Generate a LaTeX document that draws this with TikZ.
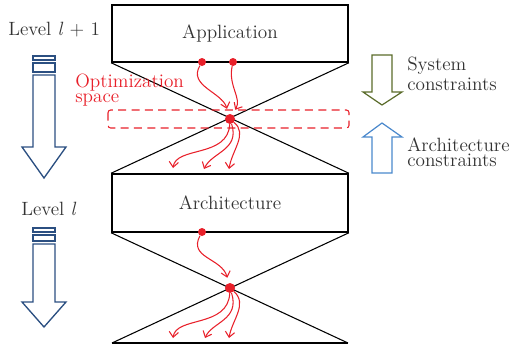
\documentclass[tikz,border=0pt]{standalone}
\usetikzlibrary{arrows.meta}
\definecolor{flowred}{HTML}{E8202A}
\definecolor{levelblue}{HTML}{2B4F81}
\definecolor{sysgreen}{HTML}{5A6B2A}
\definecolor{archblue}{HTML}{4A88CC}
\definecolor{inkgray}{HTML}{333333}
\begin{document}
\begin{tikzpicture}[x=0.75pt,y=-0.75pt,
  every node/.style={font=\fontsize{14.4}{17}\selectfont, inner sep=0pt, text=inkgray},
  box/.style={draw, line width=1.2pt, minimum width=177pt, inner sep=0pt},
  cross/.style={line width=0.8pt},
  dot/.style={circle, fill=flowred, minimum size=6pt},
  hub/.style={circle, fill=flowred, minimum size=7.5pt},
  flow/.style={flowred, line width=0.8pt, -{Straight Barb[length=4pt,width=7pt,line width=0.8pt]}},
  inflow/.style={flow, shorten >=4pt},
  levelarrow/.style={draw=levelblue, line width=1pt},
  sidetext/.style={anchor=base west},
  twoline/.style={anchor=north west, align=left, font=\fontsize{14.4}{#1}\selectfont}
]
\useasboundingbox (0,0) rectangle (514,347);

% level boxes
\node[box, minimum height=42.75pt] (app) at (230,33.5) {Application};
\node[box, minimum height=43.5pt] (arch) at (230,203) {Architecture};
\coordinate (bl) at (112,343);
\coordinate (br) at (348,343);
\draw[line width=1.2pt] (bl) -- (br);

% hourglass between the levels
\draw[cross] (app.south west) -- (arch.north east);
\draw[cross] (app.south east) -- (arch.north west);
\draw[cross] (arch.south west) -- (br);
\draw[cross] (arch.south east) -- (bl);

% optimization space band
\draw[flowred, line width=0.8pt, dash pattern=on 6pt off 4pt, rounded corners=2pt]
  (108,110) rectangle (349,128);
\node[twoline=11.25, text=flowred] (opt) at (75,73.5) {Optimization\\space};

% decision points
\node[dot] (d1) at (202,62) {};
\node[dot] (d2) at (233,62) {};
\node[hub] (x1) at (230,119) {};
\node[dot] (d3) at (202,232) {};
\node[hub] (x2) at (230,288) {};

\coordinate (a1) at (173,168);
\coordinate (a2) at (204,169);
\coordinate (a3) at (229,169);
\coordinate (b1) at (173,338);
\coordinate (b2) at (205,338);
\coordinate (b3) at (229,338);

% refinement flows
\draw[inflow] (d1) .. controls (188,86) and (222,92) .. (x1);
\draw[inflow] (d2) .. controls (228,86) and (242,98) .. (x1);
\draw[flow] (x1) .. controls (228,158) and (176,146) .. (a1);
\draw[flow] (x1) .. controls (240,150) and (212,152) .. (a2);
\draw[flow] (x1) .. controls (248,134) and (232,150) .. (a3);
\draw[inflow] (d3) .. controls (188,258) and (222,258) .. (x2);
\draw[flow] (x2) .. controls (228,328) and (176,316) .. (b1);
\draw[flow] (x2) .. controls (240,320) and (212,322) .. (b2);
\draw[flow] (x2) .. controls (248,304) and (232,320) .. (b3);

% level labels and arrows
\node[sidetext] (lv1) at (8,35) {Level \textit{l} + 1};
\node[sidetext] (lv0) at (21,215) {Level \textit{l}};
\draw[levelarrow] (33,56) rectangle (55,60);
\draw[levelarrow] (33,63) rectangle (55,72);
\draw[levelarrow] (33,75) -- (33,147) -- (22,147) -- (44,178) -- (66,147) -- (55,147) -- (55,75) -- cycle;
\draw[levelarrow] (33,228) rectangle (55,232);
\draw[levelarrow] (33,235) rectangle (55,241);
\draw[levelarrow] (33,244) -- (33,302) -- (22,302) -- (44,327) -- (66,302) -- (55,302) -- (55,244) -- cycle;

% constraint arrows
\draw[sysgreen, line width=0.9pt] (372,55) -- (392,55) -- (392,92) -- (402,92) -- (382,105) -- (363,92) -- (372,92) -- cycle;
\draw[archblue, line width=0.9pt] (382,123) -- (402,137) -- (392,137) -- (392,173) -- (372,173) -- (372,137) -- (363,137) -- cycle;
\node[twoline=15] (sc) at (407,57) {System\\constraints};
\node[twoline=11.25] (ac) at (407,137.7) {Architecture\\constraints};
\end{tikzpicture}
\end{document}
